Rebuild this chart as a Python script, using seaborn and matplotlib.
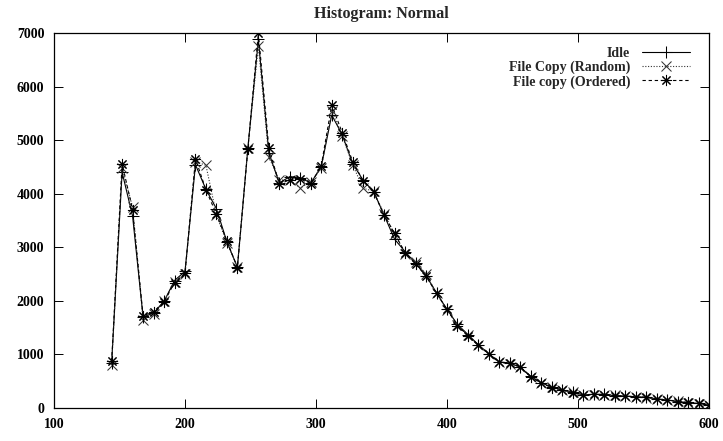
import matplotlib
matplotlib.use("Agg")
import matplotlib.pyplot as plt
import seaborn as sns
import pandas as pd
from matplotlib.lines import Line2D

# Histogram bin positions
bins = [144, 152, 160, 168, 176, 184, 192, 200, 208, 216, 224, 232, 240, 248,
        256, 264, 272, 280, 288, 296, 304, 312, 320, 328, 336, 344, 352, 360,
        368, 376, 384, 392, 400, 408, 416, 424, 432, 440, 448, 456, 464, 472,
        480, 488, 496, 504, 512, 520, 528, 536, 544, 552, 560, 568, 576, 584,
        592, 600]

idle = [840, 4400, 3580, 1700, 1770, 1990, 2380, 2550, 4540, 4080, 3720, 3100,
        2630, 4850, 6880, 4760, 4200, 4320, 4300, 4200, 4500, 5470, 5100, 4560,
        4250, 4040, 3600, 3150, 2920, 2700, 2470, 2150, 1840, 1560, 1370, 1180,
        1010, 860, 840, 760, 590, 470, 390, 335, 290, 245, 255, 255, 230, 225,
        210, 200, 170, 150, 120, 100, 85, 55]

copy_random = [810, 4480, 3750, 1650, 1760, 2000, 2350, 2500, 4600, 4530, 3600,
               3080, 2640, 4860, 6760, 4680, 4260, 4250, 4110, 4220, 4480, 5550,
               5080, 4540, 4100, 4050, 3620, 3250, 2880, 2720, 2500, 2140, 1830,
               1550, 1360, 1170, 1000, 850, 830, 760, 585, 470, 385, 330, 290,
               250, 250, 250, 235, 220, 210, 195, 175, 150, 125, 100, 80, 50]

copy_ordered = [870, 4560, 3700, 1720, 1800, 1980, 2340, 2520, 4650, 4070, 3620,
                3120, 2620, 4840, 7000, 4850, 4180, 4260, 4280, 4180, 4520, 5660,
                5140, 4600, 4240, 4030, 3600, 3260, 2900, 2690, 2460, 2140, 1840,
                1540, 1350, 1170, 1010, 850, 845, 770, 580, 465, 380, 340, 285,
                240, 255, 250, 225, 225, 205, 200, 170, 145, 120, 105, 85, 55]

series_names = ["Idle", "File Copy (Random)", "File copy (Ordered)"]
x_ticks = [100, 200, 300, 400, 500, 600]
y_ticks = [0, 1000, 2000, 3000, 4000, 5000, 6000, 7000]

sns.set_style("ticks")
plt.rcParams["font.family"] = ["Liberation Serif", "DejaVu Serif"]
plt.rcParams["font.weight"] = "bold"

df = pd.DataFrame({
    "bin": bins * 3,
    "count": idle + copy_random + copy_ordered,
    "series": [series_names[0]] * len(bins) + [series_names[1]] * len(bins)
              + [series_names[2]] * len(bins),
})

fig = plt.figure(figsize=(7.23, 4.41), dpi=100)
ax = fig.add_axes([54 / 723, 1 - 408 / 441, (709 - 54) / 723, (408 - 33) / 441])

asterisk = (8, 2, 0)
styles = {
    series_names[0]: dict(linestyle="-", marker="+", ms=8, color="black"),
    series_names[1]: dict(linestyle=(0, (1, 1.5)), marker="x", ms=6.5, color="#333333"),
    series_names[2]: dict(linestyle=(0, (3, 2.5)), marker=asterisk, ms=8, color="black"),
}

handles = []
for name in series_names:
    st = styles[name]
    sns.lineplot(data=df[df["series"] == name], x="bin", y="count", ax=ax,
                 color=st["color"], linestyle=st["linestyle"], marker=st["marker"],
                 markersize=st["ms"], markeredgewidth=0.75, linewidth=0.8,
                 markeredgecolor=st["color"], legend=False)
    handles.append(Line2D([], [], color=st["color"], linestyle=st["linestyle"],
                          marker=st["marker"], markersize=st["ms"],
                          markeredgewidth=0.75, linewidth=0.8, label=name))

ax.set_xlim(100, 600)
ax.set_ylim(0, 7000)
ax.set_xticks(x_ticks)
ax.set_yticks(y_ticks)
ax.set_xticklabels([str(t) for t in x_ticks])
ax.set_yticklabels([str(t) for t in y_ticks])
ax.set_xlabel("")
ax.set_ylabel("")
ax.tick_params(direction="in", length=6.5, width=0.7, top=True, right=True,
               labelsize=10, pad=7, colors="black")
for lab in ax.get_xticklabels() + ax.get_yticklabels():
    lab.set_fontweight("bold")
for sp in ax.spines.values():
    sp.set_visible(True)
    sp.set_linewidth(0.9)
    sp.set_color("black")

fig.text(381 / 723, 1 - 14 / 441, "Histogram: Normal", ha="center", va="center",
         fontsize=11.5, fontweight="bold")

leg = ax.legend(handles=handles, loc="upper right", bbox_to_anchor=(1.0, 1.013),
                markerfirst=False, frameon=False, numpoints=1, handlelength=3.45,
                handletextpad=0.85, labelspacing=0.05, borderaxespad=0.97,
                prop={"weight": "bold", "size": 10})

fig.savefig("out.png", dpi=100)
